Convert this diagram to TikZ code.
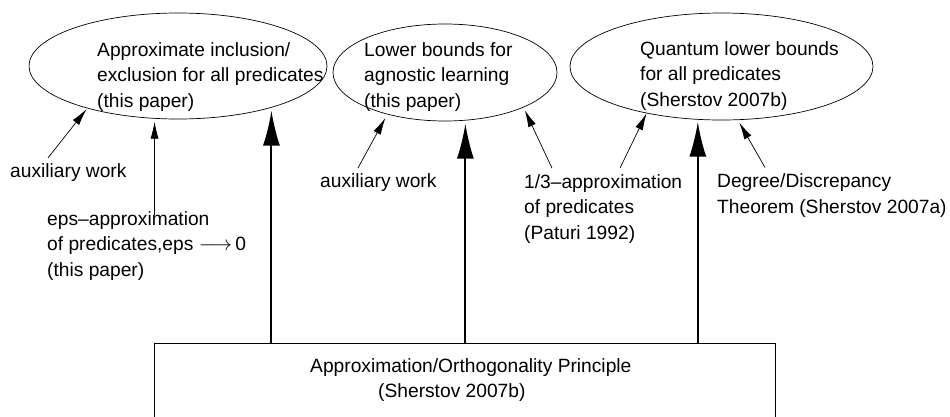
\documentclass[tikz,border=0pt]{standalone}
\usepackage{fontspec}
\setmainfont{Liberation Sans}
\usepackage{tikz}
\usetikzlibrary{shapes.geometric,arrows.meta}

\tikzset{
  bubble/.style={draw, ellipse, inner sep=0pt, line width=0.7pt},
  note/.style={align=left, inner sep=0pt, anchor=base west},
  mainarrow/.style={-{Latex[length=35pt,width=17pt]}, line width=2pt},
  sidearrow/.style={-{Latex[length=17pt,width=8pt]}, line width=0.7pt},
}

\begin{document}
\begin{tikzpicture}[x=1pt, y=-1pt, font=\fontsize{19.2}{25.4}\selectfont]
        \clip (0,0) rectangle (950,416);

        % results on top
        \node[bubble, minimum width=298pt, minimum height=106pt] (incl) at (178,66) {};
        \node[bubble, minimum width=224pt, minimum height=97pt] (agn) at (445,72.5) {};
        \node[bubble, minimum width=303pt, minimum height=107pt] (quant) at (721.5,66.5) {};

        % (base of a note = its last line)
        \node[note] (inclT) at (97,107) {Approximate inclusion/\\exclusion for all predicates\\(this paper)};
        \node[note] (agnT) at (364,107) {Lower bounds for\\agnostic learning\\(this paper)};
        \node[note] (quantT) at (640,106) {Quantum lower bounds\\for all predicates\\(Sherstov 2007b)};

        % principle at the bottom
        \node[draw, line width=1pt, anchor=north west, inner sep=0pt,
              minimum width=621pt, minimum height=90pt] (pr) at (154,343) {};
        \node[note] (prA) at (310,372) {Approximation/Orthogonality Principle};
        \node[note] (prB) at (378,397) {(Sherstov 2007b)};

        % side ingredients
        \node[note] (aux1) at (10,177) {auxiliary work};
        \node[note] (eps) at (47,276) {eps--approximation\\of predicates,eps\;$\longrightarrow$\,0\\(this paper)};
        \node[note] (aux2) at (320,187) {auxiliary work};
        \node[note] (third) at (524,239) {1/3--approximation\\of predicates\\(Paturi 1992)};
        \node[note] (deg) at (717,213) {Degree/Discrepancy\\Theorem (Sherstov 2007a)};

        \draw[mainarrow, shorten >=3pt] (incl.336 |- pr.north) -- (incl.336);
        \draw[mainarrow, shorten >=3pt] (agn.293 |- pr.north) -- (agn.293);
        \draw[mainarrow, shorten >=2pt] (quant.246 |- pr.north) -- (quant.246);

        \draw[sidearrow, shorten >=1pt] ([xshift=38pt,yshift=5pt]aux1.north west) -- (incl.205);
        \draw[sidearrow, shorten >=3pt, shorten <=-4pt] (incl.246 |- eps.north) -- (incl.246);
        \draw[sidearrow, shorten >=4pt] ([xshift=38pt,yshift=5pt]aux2.north west) -- (agn.216);
        \draw[sidearrow, shorten >=3pt] ([xshift=28pt,yshift=6pt]third.north west) -- (agn.336);
        \draw[sidearrow] ([xshift=96pt,yshift=6pt]third.north west) -- (quant.212);
        \draw[sidearrow, shorten >=3pt] ([xshift=48pt,yshift=6pt]deg.north west) -- (quant.287);
      \end{tikzpicture}
\end{document}
